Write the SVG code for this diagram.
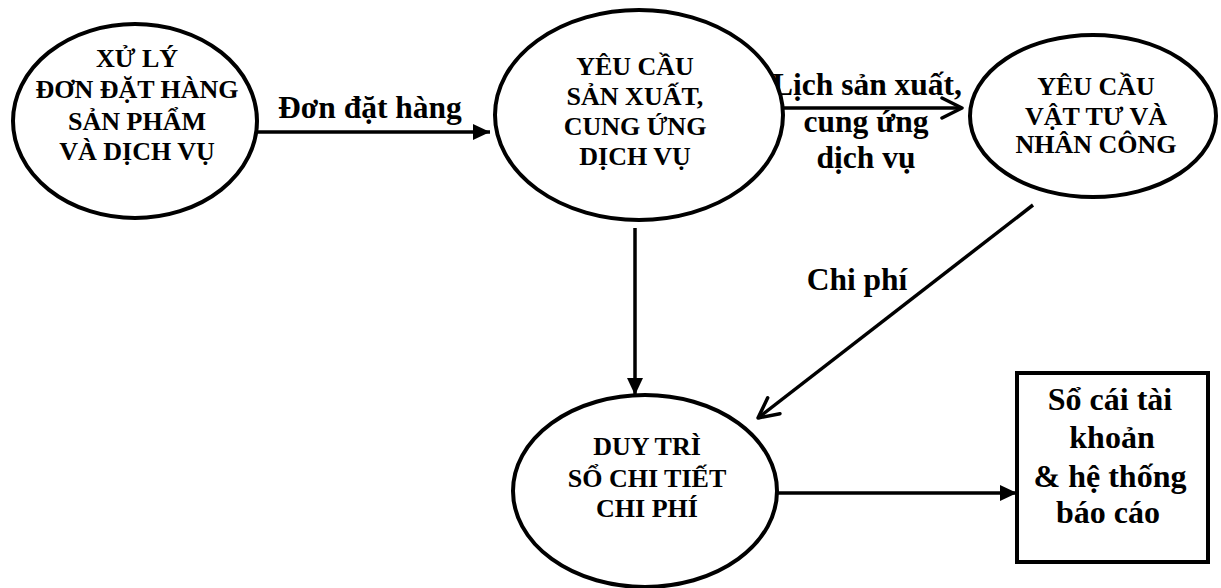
<svg xmlns="http://www.w3.org/2000/svg" width="1221" height="588" viewBox="0 0 1221 588">
  <style>
    .shape { fill: #fff; stroke: #000; stroke-width: 4; }
    .node-text { font-family: "Liberation Serif", "Times New Roman", serif; font-weight: bold; font-size: 26px; text-anchor: middle; fill: #000; }
    .label { font-family: "Liberation Serif", "Times New Roman", serif; font-weight: bold; font-size: 31.5px; text-anchor: middle; fill: #000; }
    .box-text { font-family: "Liberation Serif", "Times New Roman", serif; font-weight: bold; font-size: 32px; text-anchor: middle; fill: #000; }
    .flow { fill: none; stroke: #000; stroke-width: 3.5; }
  </style>
  <defs>
    <marker id="solid-head" markerUnits="userSpaceOnUse" markerWidth="18" markerHeight="16" refX="17" refY="8" orient="auto">
      <path d="M0,0 L17,8 L0,16 z" fill="#000"/>
    </marker>
    <marker id="open-head" markerUnits="userSpaceOnUse" markerWidth="26" markerHeight="24" refX="22" refY="12" orient="auto">
      <path d="M2,2 L22,12 L2,22" fill="none" stroke="#000" stroke-width="3.5" stroke-linecap="round" stroke-linejoin="round"/>
    </marker>
  </defs>

  <rect width="1221" height="588" fill="#fff"/>

  <!-- connectors and their labels -->
  <g id="connectors">
    <line class="flow" x1="257" y1="132" x2="490" y2="132" marker-end="url(#solid-head)"/>
    <text class="label" x="370" y="118">Đơn đặt hàng</text>

    <line class="flow" x1="773" y1="108" x2="962" y2="108" marker-end="url(#open-head)"/>
    <text class="label" x="867" y="95">Lịch sản xuất,</text>
    <text class="label" x="866" y="132">cung ứng</text>
    <text class="label" x="866" y="168">dịch vụ</text>

    <line class="flow" x1="635" y1="228" x2="635" y2="395" marker-end="url(#solid-head)"/>

    <line class="flow" x1="1033" y1="205" x2="758" y2="418" marker-end="url(#open-head)"/>
    <text class="label" x="857" y="290">Chi phí</text>

    <line class="flow" x1="777" y1="493" x2="1017" y2="493" marker-end="url(#solid-head)"/>
  </g>

  <g id="node-order">
    <ellipse class="shape" cx="135" cy="121" rx="122" ry="97"/>
    <text class="node-text" x="137" y="67">XỬ LÝ</text>
    <text class="node-text" x="137" y="98">ĐƠN ĐẶT HÀNG</text>
    <text class="node-text" x="137" y="130">SẢN PHẨM</text>
    <text class="node-text" x="137" y="160">VÀ DỊCH VỤ</text>
  </g>

  <g id="node-production">
    <ellipse class="shape" cx="639" cy="115" rx="144" ry="105"/>
    <text class="node-text" x="635" y="75">YÊU CẦU</text>
    <text class="node-text" x="635" y="105">SẢN XUẤT,</text>
    <text class="node-text" x="635" y="135">CUNG ỨNG</text>
    <text class="node-text" x="635" y="165">DỊCH VỤ</text>
  </g>

  <g id="node-materials">
    <ellipse class="shape" cx="1093" cy="116" rx="123" ry="81"/>
    <text class="node-text" x="1096" y="95">YÊU CẦU</text>
    <text class="node-text" x="1096" y="125">VẬT TƯ VÀ</text>
    <text class="node-text" x="1096" y="153">NHÂN CÔNG</text>
  </g>

  <g id="node-cost-ledger">
    <ellipse class="shape" cx="645" cy="491" rx="132" ry="96"/>
    <text class="node-text" x="647" y="455">DUY TRÌ</text>
    <text class="node-text" x="647" y="487">SỔ CHI TIẾT</text>
    <text class="node-text" x="647" y="517">CHI PHÍ</text>
  </g>

  <g id="node-general-ledger">
    <rect class="shape" x="1017" y="373" width="191" height="189"/>
    <text class="box-text" x="1110" y="410">Sổ cái tài</text>
    <text class="box-text" x="1112" y="448">khoản</text>
    <text class="box-text" x="1110" y="487">&amp; hệ thống</text>
    <text class="box-text" x="1108" y="523">báo cáo</text>
  </g>
</svg>
